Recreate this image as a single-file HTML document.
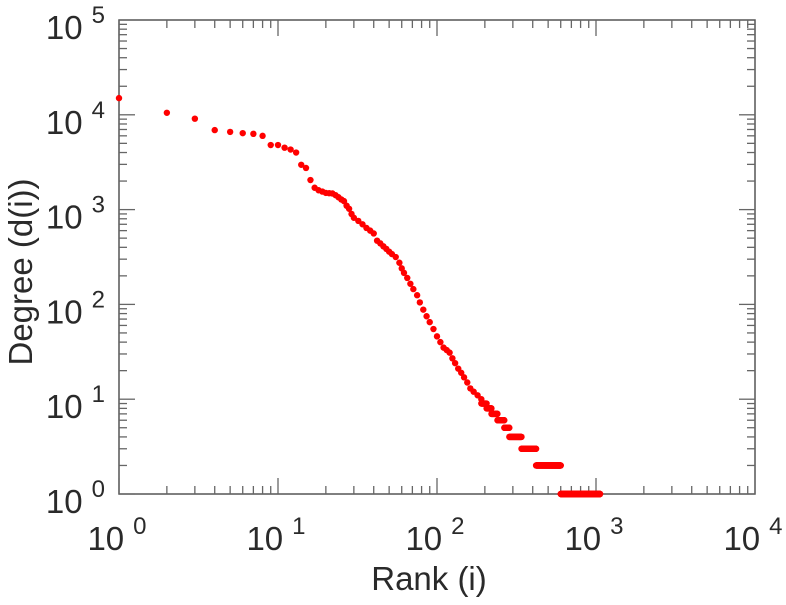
<!DOCTYPE html>
<html><head><meta charset="utf-8"><style>
body{margin:0;background:#fff;}
svg text{font-family:"Liberation Sans",sans-serif;fill:#2a2a2a;}
</style></head><body>
<svg id="chart" width="786" height="600"></svg>
<script>
const mainRanks=[1,2,3,4,5,6,7,8,9,10,11,12,13,14,15,16,17,18,19,20,21,22,23,24,25,26,27,28,29,30,32,34,36,38,40,42,44,46,48,50,52,55,58,60,62,65,68,71,75,78,82,86,90,95,100,105,110,115,120,125,130,136,142,148,155,162,170,180,190];
const mainDegrees=[15000,10500,9100,6900,6600,6400,6300,6000,4800,4800,4500,4300,4000,2970,2750,2050,1700,1600,1550,1500,1490,1480,1420,1350,1280,1230,1100,1020,900,820,760,700,640,600,560,470,440,410,385,360,340,316,275,240,215,190,165,145,125,105,88,75,65,55,46,40,35,33,31,27,24,21,19,17,15,13,12,11,10];
const tailDegrees=[9,8,7,6,5,4,3,2,1];
const tailStart=[190,205,220,240,265,285,340,420,600];
const tailEnd=[205,220,240,265,285,340,420,600,1060];
const xTickExps=[0,1,2,3,4];
const yTickExps=[0,1,2,3,4,5];

const svg=document.getElementById('chart');
const NS='http://www.w3.org/2000/svg';
const L=119,R=755,T=20,B=494;
const xs=v=>L+(Math.log10(v)-0)/4*(R-L);
const ys=v=>B-(Math.log10(v)-0)/5*(B-T);
function mk(tag,attrs,parent){const e=document.createElementNS(NS,tag);for(const k in attrs)e.setAttribute(k,attrs[k]);(parent||svg).appendChild(e);return e;}

const frame=mk('rect',{x:L,y:T,width:R-L,height:B-T,fill:'none',stroke:'#555','stroke-width':1.5});



const ticks=mk('g',{stroke:'#666','stroke-width':1.3});


for(let e=0;e<4;e++){for(let m=1;m<10;m++){const x=xs(m*Math.pow(10,e));const len=m===1?16:8;
 mk('line',{x1:x,x2:x,y1:B,y2:B-len},ticks);mk('line',{x1:x,x2:x,y1:T,y2:T+len},ticks);}}
for(let e=0;e<5;e++){for(let m=1;m<10;m++){const y=ys(m*Math.pow(10,e));const len=m===1?16:8;
 mk('line',{x1:L,x2:L+len,y1:y,y2:y},ticks);mk('line',{x1:R,x2:R-len,y1:y,y2:y},ticks);}}

xTickExps.forEach(e=>{const t=mk('text',{x:xs(Math.pow(10,e))-2,y:550,'font-size':33,'text-anchor':'middle'});
 
 
 t.innerHTML='10<tspan dy="-16" dx="9" font-size="24">'+e+'</tspan>';});
yTickExps.forEach(e=>{const t=mk('text',{x:105,y:ys(Math.pow(10,e))+19,'font-size':33,'text-anchor':'end'});
 
 
 t.innerHTML='10<tspan dy="-16" dx="9" font-size="24">'+e+'</tspan>';});

const xt=mk('text',{x:429,y:590,'font-size':33,'text-anchor':'middle'});xt.textContent='Rank (i)';


const yt=mk('text',{x:0,y:0,'font-size':33,'text-anchor':'middle',transform:'translate(32,272) rotate(-90)'});yt.textContent='Degree (d(i))';



const pts=mk('g',{fill:'#ff0000'});


mainRanks.forEach((r,i)=>{const c=mk('circle',{cx:xs(r),cy:ys(mainDegrees[i]),r:3.2},pts);
 
 });
tailDegrees.forEach((d,i)=>{for(let r=tailStart[i];r<=tailEnd[i];r++){const c=mk('circle',{cx:xs(r),cy:ys(d),r:3.2},pts);
 
 }});
</script>
</body></html>
